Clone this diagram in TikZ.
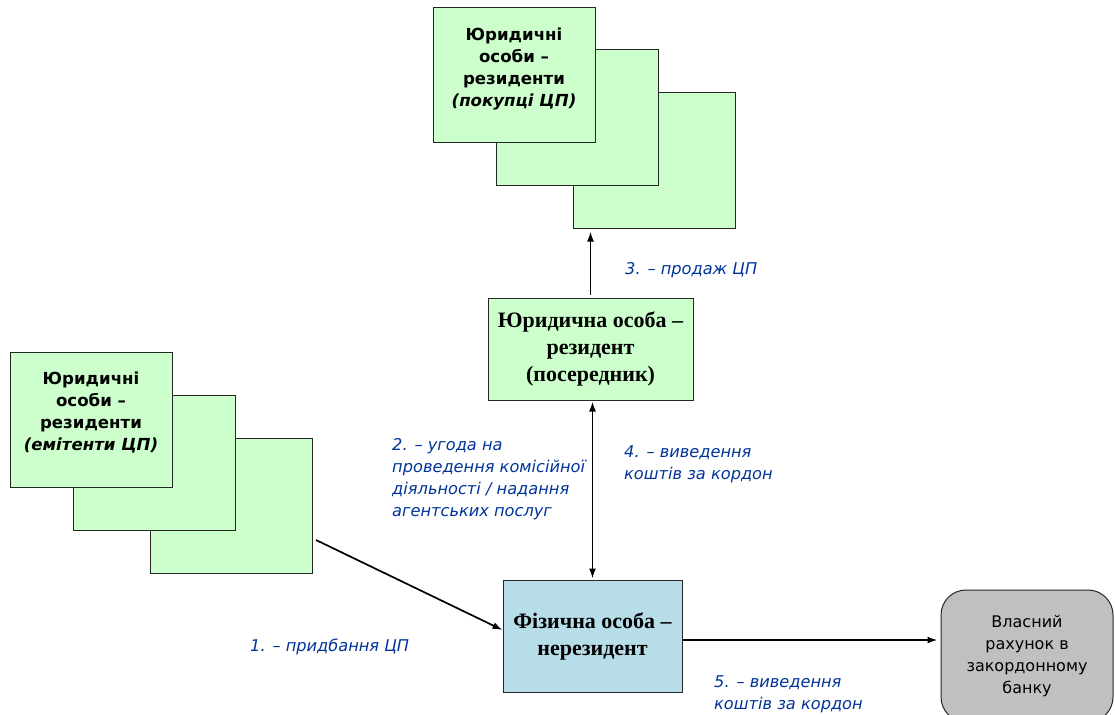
\documentclass[tikz,border=0pt]{standalone}
\usepackage{fontspec}
\setmainfont{DejaVu Sans}
\newfontfamily\tms{Liberation Serif}
\usetikzlibrary{arrows.meta}
\definecolor{boxgreen}{RGB}{204,255,204}
\definecolor{boxblue}{RGB}{183,222,232}
\definecolor{boxgray}{RGB}{192,192,192}
\definecolor{labblue}{RGB}{0,51,153}
\tikzset{
    sheet/.style={draw=black!85,fill=boxgreen,minimum width=162pt,minimum height=135pt,inner sep=0pt,line width=1pt,
        font=\fontsize{16.6}{22}\selectfont\bfseries,align=center,text depth=16pt},
    tbox/.style={draw=black!85,line width=1pt,inner sep=0pt,
        font=\tms\fontsize{22}{27}\selectfont\bfseries,align=center},
    lab/.style={text=labblue,font=\fontsize{16.2}{22}\selectfont\itshape,align=left,anchor=west,inner sep=0pt},
    arr/.style={-{Latex[length=10pt,width=7pt]},line width=1.7pt},
    darr/.style={{Latex[length=10pt,width=7pt]}-{Latex[length=10pt,width=7pt]},line width=1.7pt},
}
\begin{document}
\begin{tikzpicture}[x=1pt,y=-1pt]
    \useasboundingbox (0,0) rectangle (1115,714);
    \clip (0,0) rectangle (1115,714);
    % buyers of securities
    \node[sheet] (buyC) at (654,160.5) {};
    \node[sheet] (buyB) at (577.5,117.5) {};
    \node[sheet] (buyA) at (514,75.5) {Юридичні\\особи –\\резиденти\\\textit{(покупці ЦП)}};
    % issuers of securities
    \node[sheet] (emC) at (231.5,505.5) {};
    \node[sheet] (emB) at (154,462.5) {};
    \node[sheet] (emA) at (91,419.5) {Юридичні\\особи –\\резиденти\\\textit{(емітенти ЦП)}};
    % intermediary and non-resident
    \node[tbox,fill=boxgreen,minimum width=205pt,minimum height=102pt] (mid) at (590.5,349)
        {Юридична особа –\\резидент\\(посередник)};
    \node[tbox,fill=boxblue,minimum width=179pt,minimum height=112pt] (fiz) at (592.5,636)
        {Фізична особа –\\нерезидент};
    \node[draw=black!85,fill=boxgray,rounded corners=25pt,line width=1pt,
        minimum width=172pt,minimum height=132pt,align=center,
        font=\fontsize{16}{22}\selectfont] (bank) at (1027,656)
        {Власний\\рахунок в\\закордонному\\банку};

    \coordinate (emout) at (316,540);
    \draw[arr,shorten >=3pt,shorten <=3pt] (mid.north) -- (mid.north |- buyC.south);
    \draw[darr,shorten >=1pt,shorten <=1pt] (fiz.north |- mid.south) -- (fiz.north);
    \draw[arr] (emout) -- ([yshift=6pt]fiz.west);
    \draw[arr,shorten >=3pt] ([yshift=-4pt]fiz.east) -- ([yshift=-4pt]fiz.east -| bank.west);

    % labels
    \node[lab] (l3) at (625,270) {3. – продаж ЦП};
    \node[lab] (l2) at (392,479) {2. – угода на\\проведення комісійної\\діяльності / надання\\агентських послуг};
    \node[lab] (l4) at (624,464) {4. – виведення\\коштів за кордон};
    \node[lab] (l1) at (250,647) {1. – придбання ЦП};
    \node[lab] (l5) at (714,694) {5. – виведення\\коштів за кордон};
\end{tikzpicture}
\end{document}
